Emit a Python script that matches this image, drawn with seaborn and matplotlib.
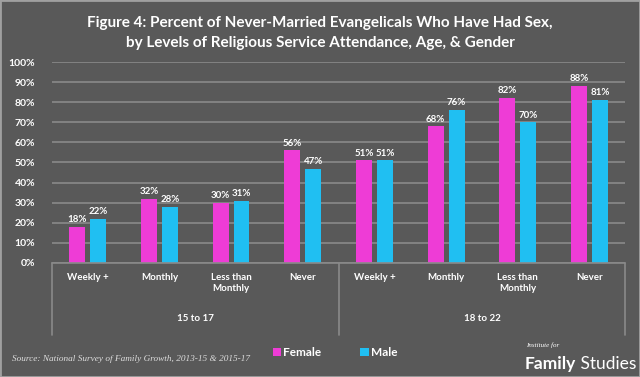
import pandas as pd
import matplotlib.pyplot as plt
import seaborn as sns
from matplotlib.patches import Rectangle

sns.set_theme(style="dark")
plt.rcParams['font.family'] = ['Lato', 'DejaVu Sans']

# data
attendance = ['Weekly +', 'Monthly', 'Less than\nMonthly', 'Never']
age_groups = ['15 to 17', '18 to 22']
female = [18, 32, 30, 56, 51, 68, 82, 88]
male = [22, 28, 31, 47, 51, 76, 70, 81]
ticks = ['0%', '10%', '20%', '30%', '40%', '50%', '60%', '70%', '80%', '90%', '100%']

bg = '#595959'
pink = '#EE3CD6'
blue = '#20BFF2'
grid = '#8a8a8a'

cats = [f'{a}|{g}' for a in age_groups for g in attendance]
df = pd.DataFrame({
    'cat': cats * 2,
    'gender': ['Female'] * len(cats) + ['Male'] * len(cats),
    'pct': female + male,
})

fig = plt.figure(figsize=(6.4, 3.77), dpi=100, facecolor=bg)
ax = fig.add_axes([0.081, 0.3025, 0.896, 0.533])
ax.set_facecolor(bg)

sns.barplot(data=df, x='cat', y='pct', hue='gender', order=cats,
            palette={'Female': pink, 'Male': blue}, width=0.585, gap=0.24,
            saturation=1, linewidth=0, ax=ax, legend=True)

for cont in ax.containers:
    ax.bar_label(cont, labels=[f'{v:.0f}%' for v in cont.datavalues],
                 color='white', fontsize=7, fontweight='bold', padding=2)

ax.set_ylim(0, 100)
ax.set_xlim(-0.5, len(cats) - 0.5)
ax.set_yticks(range(0, 101, 10))
ax.set_yticklabels(ticks, color='white', fontsize=7.5, fontweight='bold')
ax.yaxis.grid(True, color=grid, linewidth=1.2)
ax.set_axisbelow(True)
ax.tick_params(axis='y', length=0, pad=12)
ax.set_xticks(range(len(cats)))
ax.set_xticklabels(attendance * 2, color='white', fontsize=7, fontweight='bold',
                   va='top', linespacing=1.3)
ax.tick_params(axis='x', length=0, pad=7)
ax.set_xlabel('')
ax.set_ylabel('')
for s in ax.spines.values():
    s.set_visible(False)
ax.axhline(0, color=grid, linewidth=1.2, clip_on=False)

# group separators and group labels
trans = ax.get_xaxis_transform()
for xb in [-0.5, 3.5, 7.5]:
    ax.plot([xb, xb], [0, -0.36], color=grid, linewidth=1.2, transform=trans, clip_on=False)
for i, g in enumerate(age_groups):
    ax.text(1.5 + 4 * i, -0.275, g, transform=trans, ha='center', va='center',
            color='white', fontsize=7, fontweight='bold')

# legend
handles, labels = ax.get_legend_handles_labels()
leg = ax.legend(handles, labels, loc='center', bbox_to_anchor=(0.494, -0.445),
                ncol=2, frameon=False, fontsize=8.5, handlelength=0.7, handleheight=0.7,
                handletextpad=0.2, columnspacing=3.3)
for t in leg.get_texts():
    t.set_color('white')
    t.set_fontweight('bold')

fig.text(0.5, 0.912, 'Figure 4: Percent of Never-Married Evangelicals Who Have Had Sex,\n'
         'by Levels of Religious Service Attendance, Age, & Gender',
         ha='center', va='center', color='white', fontsize=11, fontweight='bold',
         linespacing=1.6)

fig.text(0.018, 0.048, 'Source: National Survey of Family Growth, 2013-15 & 2015-17',
         color='#dddddd', fontsize=6.7, style='italic', family='Liberation Serif',
         va='center')
fig.text(0.822, 0.085, 'Institute for', color='white', fontsize=5, style='italic',
         family='Liberation Serif', va='center')
fam = fig.text(0.82, 0.035, 'Family', color='white', fontsize=12.5, fontweight='bold',
               va='center')
fig.text(0, 0, 'Studies', color='white', fontsize=12.5, va='center')
fig.texts[-1].remove()
ax.annotate(' Studies', xy=(1, 0.5), xycoords=fam, va='center', ha='left',
            color='white', fontsize=12.5, annotation_clip=False)

fig.patches.append(Rectangle((0, 0), 1, 1, transform=fig.transFigure, fill=False,
                             edgecolor='#a0a0a0', linewidth=2))

fig.savefig('out.png', dpi=100, facecolor=bg)
